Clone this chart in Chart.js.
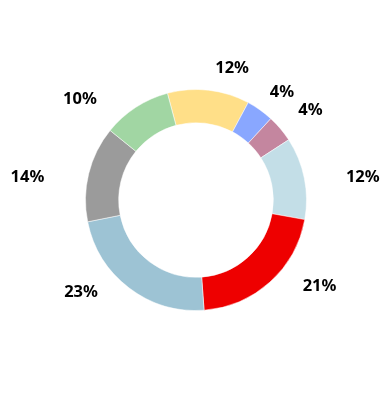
<!DOCTYPE html>
<html>
<head>
<meta charset="utf-8">
<script src="https://cdn.jsdelivr.net/npm/chart.js@4/dist/chart.umd.min.js"></script>
<style>
  html, body { margin: 0; padding: 0; background: #fff; }
  #wrap { width: 392px; height: 400px; position: relative; }
</style>
</head>
<body>
<div id="wrap"><canvas id="c" width="392" height="400"></canvas></div>
<script>
const categories = ['A', 'B', 'C', 'D', 'E', 'F', 'G', 'H'];
const values = [12, 4, 4, 12, 21, 23, 14, 10];
const labelTexts = ['12%', '4%', '4%', '12%', '21%', '23%', '14%', '10%'];
const colors = ['#FFDF88', '#89A7FF', '#C4869F', '#C3DEE7', '#EE0000', '#9DC3D4', '#9B9B9B', '#A1D6A3'];

const outsideLabels = {
  id: 'outsideLabels',
  afterDatasetsDraw(chart, args, opts) {
    const ctx = chart.ctx;
    const meta = chart.getDatasetMeta(0);
    ctx.save();
    ctx.font = opts.font;
    ctx.fillStyle = opts.color;
    ctx.textBaseline = 'middle';
    meta.data.forEach((arc, i) => {
      const mid = (arc.startAngle + arc.endAngle) / 2;
      const r = arc.outerRadius + opts.gap;
      const nudge = opts.nudge[i] || [0, 0];
      const x = arc.x + Math.cos(mid) * r + nudge[0];
      const y = arc.y + Math.sin(mid) * r + nudge[1];
      ctx.textAlign = Math.cos(mid) >= 0 ? 'left' : 'right';
      ctx.fillText(labelTexts[i], x, y);
    });
    ctx.restore();
  }
};

new Chart(document.getElementById('c'), {
  type: 'doughnut',
  data: {
    labels: categories,
    datasets: [{
      data: values,
      backgroundColor: colors,
      borderColor: 'rgba(255,255,255,0.5)',
      borderWidth: 1,
      hoverOffset: 0
    }]
  },
  options: {
    responsive: false,
    animation: false,
    rotation: -15,
    cutout: '70%',
    layout: { padding: { left: 85, right: 85, top: 89, bottom: 89 } },
    plugins: {
      legend: { display: false },
      tooltip: { enabled: false },
      outsideLabels: {
        font: 'bold 16.5px "Noto Sans"',
        color: '#000',
        gap: 22,
        nudge: [[4,0],[-3,0],[1,-4],[20,3],[18,-12],[-18,-13],[-23,9],[-27,10]]
      }
    }
  },
  plugins: [outsideLabels]
});
</script>
</body>
</html>
